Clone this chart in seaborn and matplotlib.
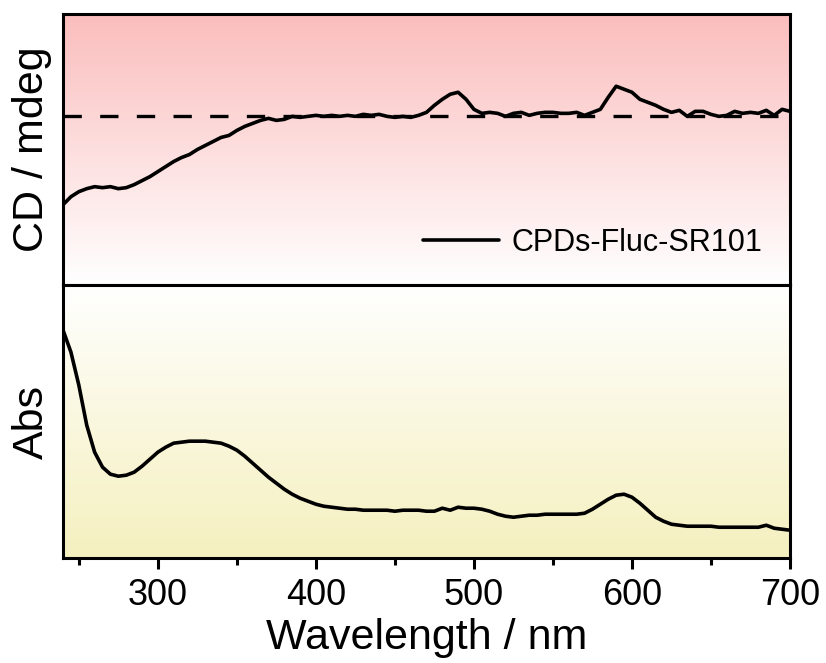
import numpy as np
import pandas as pd
import matplotlib
matplotlib.use("Agg")
import matplotlib.pyplot as plt
from matplotlib.colors import LinearSegmentedColormap
import seaborn as sns

# Wavelength grid (nm)
wavelength = list(range(240, 705, 5))

# Circular dichroism signal (mdeg, baseline at 0)
cd_mdeg = [
    -8.8, -8.0, -7.5, -7.2, -7.0, -7.1, -7.0, -7.2, -7.1, -6.8,
    -6.4, -6.0, -5.5, -5.0, -4.5, -4.1, -3.8, -3.3, -2.9, -2.5,
    -2.1, -1.9, -1.4, -1.0, -0.7, -0.4, -0.2, -0.4, -0.3, 0.0,
    -0.1, 0.0, 0.1, 0.0, 0.1, 0.0, 0.1, 0.0, 0.2, 0.1,
    0.2, 0.0, -0.1, 0.0, -0.1, 0.1, 0.4, 1.1, 1.7, 2.2,
    2.4, 1.7, 0.7, 0.3, 0.4, 0.3, 0.0, 0.3, 0.4, 0.1,
    0.3, 0.4, 0.4, 0.3, 0.3, 0.4, 0.1, 0.4, 0.7, 1.9,
    3.0, 2.7, 2.4, 1.7, 1.4, 1.1, 0.7, 0.4, 0.6, 0.0,
    0.5, 0.5, 0.2, 0.0, 0.1, 0.5, 0.3, 0.4, 0.3, 0.6,
    0.1, 0.7, 0.5,
]

# UV-vis absorbance (a.u.)
absorbance = [
    2.28, 2.06, 1.73, 1.33, 1.06, 0.91, 0.84, 0.82, 0.83, 0.86,
    0.92, 0.99, 1.06, 1.11, 1.15, 1.16, 1.17, 1.17, 1.17, 1.16,
    1.15, 1.12, 1.08, 1.02, 0.95, 0.88, 0.81, 0.75, 0.69, 0.64,
    0.60, 0.57, 0.54, 0.52, 0.51, 0.50, 0.49, 0.49, 0.48, 0.48,
    0.48, 0.48, 0.47, 0.48, 0.48, 0.48, 0.47, 0.47, 0.50, 0.48,
    0.51, 0.50, 0.50, 0.49, 0.47, 0.44, 0.42, 0.41, 0.42, 0.43,
    0.43, 0.44, 0.44, 0.44, 0.44, 0.44, 0.45, 0.49, 0.54, 0.59,
    0.63, 0.64, 0.61, 0.55, 0.48, 0.41, 0.37, 0.34, 0.33, 0.32,
    0.32, 0.32, 0.32, 0.31, 0.31, 0.31, 0.31, 0.31, 0.31, 0.33,
    0.30, 0.29, 0.28,
]

x_ticks = [300, 400, 500, 600, 700]
x_minor = [250, 350, 450, 550, 650]
x_range = (240, 700)
cd_range = (-16.8, 10.2)
abs_range = (0.0, 2.73)

sns.set_style("ticks")
plt.rcParams["font.family"] = ["Liberation Sans", "DejaVu Sans"]
plt.rcParams["text.color"] = "black"
plt.rcParams["axes.labelcolor"] = "black"
plt.rcParams["xtick.color"] = "black"
plt.rcParams["xtick.labelcolor"] = "black"
plt.rcParams["axes.linewidth"] = 2.2

df_cd = pd.DataFrame({"Wavelength": wavelength, "CD": cd_mdeg})
df_abs = pd.DataFrame({"Wavelength": wavelength, "Abs": absorbance})

fig = plt.figure(figsize=(8.26, 6.63), dpi=100)
ax_cd = fig.add_axes([0.0763, 0.570, 0.8801, 0.409])
ax_abs = fig.add_axes([0.0763, 0.158, 0.8801, 0.412])

# Vertical colour gradients behind each panel
pink = LinearSegmentedColormap.from_list("pink_fade", ["#ffffff", "#fbbdbd"])
yellow = LinearSegmentedColormap.from_list("yellow_fade", ["#f5f0bf", "#ffffff"])
grad = np.linspace(0, 1, 256).reshape(-1, 1)
ax_cd.imshow(grad, cmap=pink, origin="lower", aspect="auto",
             extent=[x_range[0], x_range[1], cd_range[0], cd_range[1]], zorder=0)
ax_abs.imshow(grad, cmap=yellow, origin="lower", aspect="auto",
              extent=[x_range[0], x_range[1], abs_range[0], abs_range[1]], zorder=0)

sns.lineplot(data=df_cd, x="Wavelength", y="CD", ax=ax_cd, color="black",
             lw=2.6, label="CPDs-Fluc-SR101", zorder=3)
ax_cd.axhline(0, color="black", lw=2.4, dashes=(5.5, 5.5), zorder=2)
sns.lineplot(data=df_abs, x="Wavelength", y="Abs", ax=ax_abs, color="black",
             lw=2.6, zorder=3)

for ax, yr in ((ax_cd, cd_range), (ax_abs, abs_range)):
    ax.set_xlim(*x_range)
    ax.set_ylim(*yr)
    ax.set_yticks([])
    for s in ax.spines.values():
        s.set_visible(True)
        s.set_linewidth(2.2)
        s.set_color("black")

ax_cd.set_xticks([])
ax_cd.set_xlabel("")
ax_cd.set_ylabel("CD / mdeg", fontsize=31, labelpad=8)

ax_abs.set_xticks(x_ticks)
ax_abs.set_xticks(x_minor, minor=True)
ax_abs.tick_params(axis="x", which="major", direction="out", length=8, width=2.2,
                   labelsize=26, pad=6)
ax_abs.tick_params(axis="x", which="minor", direction="out", length=5, width=2.2)
ax_abs.set_xlabel("Wavelength / nm", fontsize=31, labelpad=4)
ax_abs.set_ylabel("Abs", fontsize=31, labelpad=8)

leg = ax_cd.legend(loc="lower right", frameon=False, fontsize=22,
                   handlelength=2.5, handletextpad=0.4,
                   bbox_to_anchor=(1.0, 0.0))
for t in leg.get_texts():
    t.set_color("black")

fig.savefig("out.png", dpi=100)
